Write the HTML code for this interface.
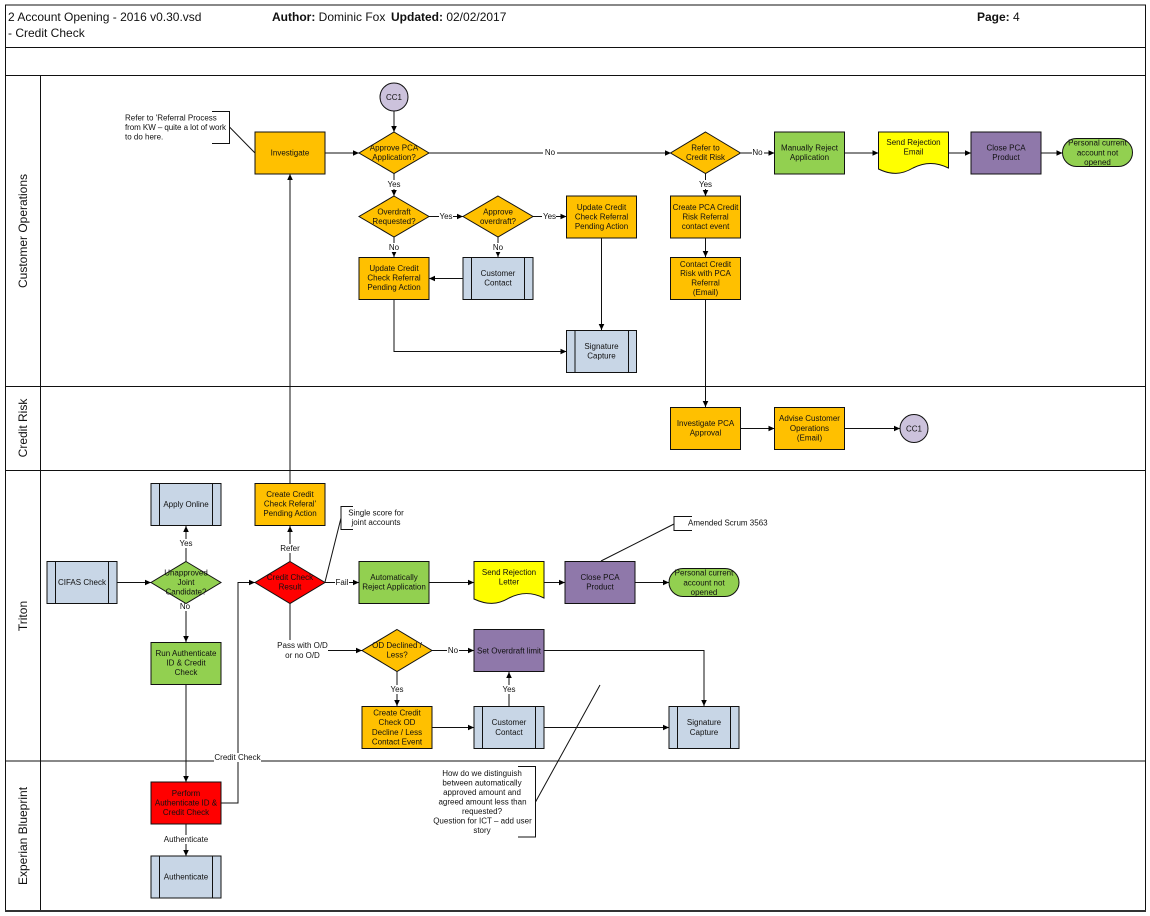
<!DOCTYPE html>
<html><head><meta charset="utf-8"><style>
html,body{margin:0;padding:0;background:#fff}
svg{display:block}
text{font-family:"Liberation Sans",sans-serif;font-size:8px;fill:#111;text-anchor:middle}
.l{text-anchor:start}
.h{font-size:12px;text-anchor:start}
.b{font-weight:bold}
.lane{font-size:12px}
.s{stroke:#111;stroke-width:1}
.o{fill:#FFC000}.g{fill:#92D050}.p{fill:#8F78AA}.u{fill:#C8D6E6}.y{fill:#FFFF00}.r{fill:#FF0000}.c{fill:#CCC2DC}
.w{fill:none;stroke:#111;stroke-width:1}
.lab{fill:#fff;stroke:none}
</style></head><body>
<svg width="1150" height="916" viewBox="0 0 1150 916" xmlns="http://www.w3.org/2000/svg">
<defs><marker id="a" markerUnits="userSpaceOnUse" markerWidth="7" markerHeight="6" refX="6" refY="3" orient="auto"><path d="M0 0.2L6 3L0 5.8Z" fill="#000"/></marker></defs>
<rect width="1150" height="916" fill="#fff"/>

<!-- frame -->
<g fill="none" stroke="#111">
<rect x="5.5" y="5" width="1140" height="906"/>
<path d="M5 47.5H1145M5 75.5H1145M5 386.5H1145M5 470.5H1145M5 761H1145M40.5 75V911"/>
</g>
<path d="M5 911H1146" stroke="#333" stroke-width="2"/>

<text class="h" x="8" y="21">2 Account Opening - 2016 v0.30.vsd</text>
<text class="h" x="8" y="37">- Credit Check</text>
<text class="h" x="272" y="21"><tspan class="b">Author:</tspan> Dominic Fox</text>
<text class="h" x="391" y="21"><tspan class="b">Updated:</tspan> 02/02/2017</text>
<text class="h" x="977" y="21"><tspan class="b">Page:</tspan> 4</text>

<text class="lane" transform="translate(27,231) rotate(-90)">Customer Operations</text>
<text class="lane" transform="translate(27,428) rotate(-90)">Credit Risk</text>
<text class="lane" transform="translate(27,616) rotate(-90)">Triton</text>
<text class="lane" transform="translate(27,836) rotate(-90)">Experian Blueprint</text>

<!-- connectors -->
<g class="w">
<path d="M394 111V132" marker-end="url(#a)"/>
<path d="M325 153H359" marker-end="url(#a)"/>
<path d="M429 153H671" marker-end="url(#a)"/>
<path d="M394 173V196" marker-end="url(#a)"/>
<path d="M429 216.5H463" marker-end="url(#a)"/>
<path d="M533 216.5H566.5" marker-end="url(#a)"/>
<path d="M394 237V257" marker-end="url(#a)"/>
<path d="M498 237V257" marker-end="url(#a)"/>
<path d="M463 278.5H429" marker-end="url(#a)"/>
<path d="M394 299V351.5H566.5" marker-end="url(#a)"/>
<path d="M601.5 238V330" marker-end="url(#a)"/>
<path d="M705.5 173V196" marker-end="url(#a)"/>
<path d="M705.5 238V257" marker-end="url(#a)"/>
<path d="M705.5 299V407" marker-end="url(#a)"/>
<path d="M741 153H774.5" marker-end="url(#a)"/>
<path d="M845 153H878.5" marker-end="url(#a)"/>
<path d="M949 153H971" marker-end="url(#a)"/>
<path d="M1041 153H1062.5" marker-end="url(#a)"/>
<path d="M741 428.5H774.5" marker-end="url(#a)"/>
<path d="M845 428.5H900" marker-end="url(#a)"/>
<path d="M290 483V174" marker-end="url(#a)"/>
<path d="M186 562V526" marker-end="url(#a)"/>
<path d="M117 582.5H151" marker-end="url(#a)"/>
<path d="M186 603V642" marker-end="url(#a)"/>
<path d="M186 684V782" marker-end="url(#a)"/>
<path d="M186 824V856" marker-end="url(#a)"/>
<path d="M221 803H238V582.5H255" marker-end="url(#a)"/>
<path d="M290 562V526" marker-end="url(#a)"/>
<path d="M325 582.5H359" marker-end="url(#a)"/>
<path d="M290 603V650.5H362" marker-end="url(#a)"/>
<path d="M432 650.5H474" marker-end="url(#a)"/>
<path d="M397 671V706" marker-end="url(#a)"/>
<path d="M432 727.5H474" marker-end="url(#a)"/>
<path d="M509 706V672" marker-end="url(#a)"/>
<path d="M544 727.5H669" marker-end="url(#a)"/>
<path d="M544 650.5H704V706" marker-end="url(#a)"/>
<path d="M429 582.5H474" marker-end="url(#a)"/>
<path d="M544 582.5H565" marker-end="url(#a)"/>
<path d="M635 582.5H669" marker-end="url(#a)"/>
</g>

<!-- annotation brackets -->
<g class="w">
<path d="M212 111.5H229.5V143.5H212M229.5 127L255 153"/>
<path d="M353 506.5H341V529.5H353M341 518L325 582"/>
<path d="M692 516.5H674V530.5H692M674 524L601 561"/>
<path d="M518 766.5H535.5V837H518M535.5 802L600 685"/>
</g>

<!-- connector label backgrounds -->
<g class="lab">
<rect x="543" y="148" width="14" height="9"/><rect x="387" y="180" width="14" height="9"/>
<rect x="439" y="212" width="14" height="9"/><rect x="542" y="212" width="14" height="9"/>
<rect x="388" y="243" width="12" height="9"/><rect x="492" y="243" width="12" height="9"/>
<rect x="699" y="180" width="13" height="9"/><rect x="752" y="148" width="12" height="9"/>
<rect x="179" y="539" width="14" height="9"/><rect x="180" y="602" width="12" height="9"/>
<rect x="164" y="835" width="44" height="9"/><rect x="214" y="753" width="47" height="9"/>
<rect x="280" y="544" width="20" height="9"/><rect x="335" y="578" width="14" height="9"/>
<rect x="277" y="640" width="51" height="20"/><rect x="447" y="646" width="12" height="9"/>
<rect x="390" y="685" width="14" height="9"/><rect x="502" y="685" width="14" height="9"/>
</g>

<!-- shapes -->
<g class="s">
<circle class="c" cx="394" cy="97" r="14"/>
<circle class="c" cx="914" cy="428.5" r="14"/>
<rect class="o" x="255" y="132" width="70" height="42"/>
<path class="o" d="M394 132L429 153L394 173.5L359 153Z"/>
<path class="o" d="M394 196L429 216.5L394 237L359 216.5Z"/>
<path class="o" d="M498 196L533 216.5L498 237L463 216.5Z"/>
<path class="o" d="M705.5 132L740.5 153L705.5 173.5L670.5 153Z"/>
<rect class="o" x="359" y="257.5" width="70" height="42"/>
<rect class="u" x="463" y="257.5" width="70" height="42"/>
<path d="M471.5 257.5V299.5M524.5 257.5V299.5"/>
<rect class="o" x="566.5" y="196" width="70" height="42"/>
<rect class="u" x="566.5" y="330.5" width="70" height="42"/>
<path d="M575 330.5V372.5M628.5 330.5V372.5"/>
<rect class="o" x="670.5" y="196" width="70" height="42"/>
<rect class="o" x="670.5" y="257.5" width="70" height="42"/>
<rect class="g" x="774.5" y="132" width="70" height="42"/>
<path class="y" d="M878.5 132H948.5V168C936 162 925 162 913 168C901 175 891 175 878.5 169Z"/>
<rect class="p" x="971" y="132" width="70" height="42"/>
<rect class="g" x="1062.5" y="138.5" width="70" height="28" rx="14"/>
<rect class="o" x="670.5" y="407.5" width="70" height="42"/>
<rect class="o" x="774.5" y="407.5" width="70" height="42"/>
<rect class="u" x="151" y="483.5" width="70" height="42"/>
<path d="M159.5 483.5V525.5M212.5 483.5V525.5"/>
<rect class="o" x="255" y="483.5" width="70" height="42"/>
<rect class="u" x="47" y="561.5" width="70" height="42"/>
<path d="M55.5 561.5V603.5M108.5 561.5V603.5"/>
<path class="g" d="M186 561.5L221 582.5L186 603.5L151 582.5Z"/>
<path class="r" d="M290 561.5L325 582.5L290 603.5L255 582.5Z"/>
<rect class="g" x="359" y="561.5" width="70" height="42"/>
<path class="y" d="M474 561.5H544V598C532 592 521 592 509 598C497 605 487 605 474 599Z"/>
<rect class="p" x="565" y="561.5" width="70" height="42"/>
<rect class="g" x="669" y="568.5" width="70" height="28" rx="14"/>
<path class="o" d="M397 629.5L432 650.5L397 671.5L362 650.5Z"/>
<rect class="p" x="474" y="629.5" width="70" height="42"/>
<rect class="g" x="151" y="642.5" width="70" height="42"/>
<rect class="o" x="362" y="706.5" width="70" height="42"/>
<rect class="u" x="474" y="706.5" width="70" height="42"/>
<path d="M482.5 706.5V748.5M535.5 706.5V748.5"/>
<rect class="u" x="669" y="706.5" width="70" height="42"/>
<path d="M677.5 706.5V748.5M730.5 706.5V748.5"/>
<rect class="r" x="151" y="782" width="70" height="42"/>
<rect class="u" x="151" y="856" width="70" height="42"/>
<path d="M159.5 856V898M212.5 856V898"/>
</g>

<!-- node text -->
<text x="394" y="100">CC1</text>
<text x="914" y="431.5">CC1</text>
<text x="290" y="155.5">Investigate</text>
<text x="394" y="150.5">Approve PCA</text><text x="394" y="160">Application?</text>
<text x="394" y="214.5">Overdraft</text><text x="394" y="224">Requested?</text>
<text x="498" y="214.5">Approve</text><text x="498" y="224">overdraft?</text>
<text x="705.5" y="150.5">Refer to</text><text x="705.5" y="160">Credit Risk</text>
<text x="394" y="271">Update Credit</text><text x="394" y="280.5">Check Referral</text><text x="394" y="290">Pending Action</text>
<text x="498" y="276">Customer</text><text x="498" y="285.5">Contact</text>
<text x="601.5" y="210">Update Credit</text><text x="601.5" y="219.5">Check Referral</text><text x="601.5" y="229">Pending Action</text>
<text x="601.5" y="349">Signature</text><text x="601.5" y="358.5">Capture</text>
<text x="705.5" y="210">Create PCA Credit</text><text x="705.5" y="219.5">Risk Referral</text><text x="705.5" y="229">contact event</text>
<text x="705.5" y="267">Contact Credit</text><text x="705.5" y="276">Risk with PCA</text><text x="705.5" y="285.5">Referral</text><text x="705.5" y="295">(Email)</text>
<text x="809.5" y="150.5">Manually Reject</text><text x="809.5" y="160">Application</text>
<text x="913.5" y="145">Send Rejection</text><text x="913.5" y="154.5">Email</text>
<text x="1006" y="150.5">Close PCA</text><text x="1006" y="160">Product</text>
<text x="1097.5" y="145.5">Personal current</text><text x="1097.5" y="155.5">account not</text><text x="1097.5" y="165">opened</text>
<text x="705.5" y="426">Investigate PCA</text><text x="705.5" y="435.5">Approval</text>
<text x="809.5" y="421">Advise Customer</text><text x="809.5" y="431">Operations</text><text x="809.5" y="440.5">(Email)</text>
<text x="186" y="507">Apply Online</text>
<text x="290" y="497">Create Credit</text><text x="290" y="506.5">Check Referal'</text><text x="290" y="516">Pending Action</text>
<text x="82" y="585">CIFAS Check</text>
<text x="186" y="575.5">Unapproved</text><text x="186" y="585">Joint</text><text x="186" y="594.5">Candidate?</text>
<text x="290" y="580">Credit Check</text><text x="290" y="589.5">Result</text>
<text x="394" y="580">Automatically</text><text x="394" y="589.5">Reject Application</text>
<text x="509" y="575">Send Rejection</text><text x="509" y="584.5">Letter</text>
<text x="600" y="580">Close PCA</text><text x="600" y="589.5">Product</text>
<text x="704" y="575.5">Personal current</text><text x="704" y="585.5">account not</text><text x="704" y="595">opened</text>
<text x="397" y="648">OD Declined /</text><text x="397" y="657.5">Less?</text>
<text x="509" y="653.5">Set Overdraft limit</text>
<text x="186" y="656">Run Authenticate</text><text x="186" y="665.5">ID &amp; Credit</text><text x="186" y="675">Check</text>
<text x="397" y="715.5">Create Credit</text><text x="397" y="725">Check OD</text><text x="397" y="735">Decline / Less</text><text x="397" y="744.5">Contact Event</text>
<text x="509" y="725">Customer</text><text x="509" y="735">Contact</text>
<text x="704" y="725">Signature</text><text x="704" y="735">Capture</text>
<text x="186" y="796">Perform</text><text x="186" y="805.5">Authenticate ID &amp;</text><text x="186" y="815">Credit Check</text>
<text x="186" y="879.5">Authenticate</text>

<!-- connector labels -->
<text x="550" y="155">No</text><text x="394" y="187">Yes</text>
<text x="446" y="219">Yes</text><text x="549.5" y="219">Yes</text>
<text x="394" y="250">No</text><text x="498" y="250">No</text>
<text x="705.5" y="187">Yes</text><text x="757.5" y="155">No</text>
<text x="186" y="546">Yes</text><text x="185" y="609">No</text>
<text x="186" y="842">Authenticate</text>
<text x="237.5" y="760">Credit Check</text>
<text x="290" y="551">Refer</text><text x="342" y="585">Fail</text>
<text x="302.5" y="648">Pass with O/D</text><text x="302.5" y="658">or no O/D</text>
<text x="453" y="653">No</text><text x="397" y="692">Yes</text><text x="509" y="692">Yes</text>

<!-- annotation text -->
<text class="l" x="125" y="120.5">Refer to 'Referral Process</text>
<text class="l" x="125" y="130" textLength="101">from KW – quite a lot of work</text>
<text class="l" x="125" y="139.5">to do here.</text>
<text x="376" y="515.5">Single score for</text><text x="376" y="525">joint accounts</text>
<text class="l" x="688" y="525.5">Amended Scrum 3563</text>
<text x="482" y="776">How do we distinguish</text>
<text x="482" y="785.5">between automatically</text>
<text x="482" y="795">approved amount and</text>
<text x="482.5" y="804.5">agreed amount less than</text>
<text x="482" y="814">requested?</text>
<text x="482.5" y="823.5">Question for ICT – add user</text>
<text x="482" y="833">story</text>
</svg>
</body></html>
